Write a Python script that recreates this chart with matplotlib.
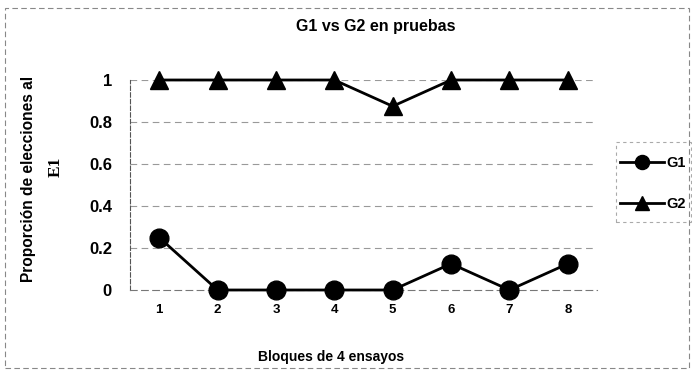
import matplotlib
matplotlib.use("Agg")
import matplotlib.pyplot as plt
from matplotlib.patches import Rectangle

categories = [1, 2, 3, 4, 5, 6, 7, 8]
g1 = [0.25, 0, 0, 0, 0, 0.125, 0, 0.125]
g2 = [1, 1, 1, 1, 0.875, 1, 1, 1]
yticks = [0, 0.2, 0.4, 0.6, 0.8, 1]
ytick_labels = ["0", "0.2", "0.4", "0.6", "0.8", "1"]

plt.rcParams['font.family'] = ['Liberation Sans', 'DejaVu Sans']

W, H = 692, 373
fig = plt.figure(figsize=(W/100, H/100), dpi=100)
ax = fig.add_axes([130/W, 83/H, (597-130)/W, (290-80)/H])

ax.plot(categories, g1, color='black', lw=2, marker='o', markersize=13.5,
        label='G1', clip_on=False, zorder=3)
ax.plot(categories, g2, color='black', lw=2, marker='^', markersize=13.5,
        label='G2', clip_on=False, zorder=3)

ax.set_xlim(0.5, 8.5)
ax.set_ylim(0, 1)
ax.set_yticks(yticks)
ax.set_yticklabels(ytick_labels, fontweight='bold', fontsize=12)
ax.set_xticks(categories)
ax.set_xticklabels([str(c) for c in categories], fontweight='bold', fontsize=9.5)
ax.tick_params(length=0)
ax.tick_params(axis='x', pad=10)
ax.tick_params(axis='y', pad=13)
for y in yticks[1:]:
    ax.axhline(y, color='#999999', lw=0.8, ls=(0, (6, 4)), zorder=1)
for s in ['top', 'right']:
    ax.spines[s].set_visible(False)
ax.spines['left'].set_linestyle((0, (4, 2)))
ax.spines['left'].set_color('#555555')
ax.spines['bottom'].set_linestyle((0, (6, 4)))
ax.spines['bottom'].set_color('#777777')

fig.text(376/W, 1 - 26/H, 'G1 vs G2 en pruebas', ha='center', va='center',
         fontsize=11.5, fontweight='bold')
fig.text(331/W, 1 - 357/H, 'Bloques de 4 ensayos', ha='center', va='center',
         fontsize=10, fontweight='bold')
fig.text(29/W, 1 - 179/H, 'Proporción de elecciones al', rotation=90, ha='center', va='center',
         fontsize=11.2, fontweight='bold')
fig.text(56/W, 1 - 167/H, 'E1', rotation=90, ha='center', va='center',
         fontsize=12.5, fontweight='bold', family=['Liberation Serif', 'DejaVu Serif'])

leg = ax.legend(loc='upper left', bbox_to_anchor=(616/W, 1 - 152/H), bbox_transform=fig.transFigure,
                frameon=False, prop={'weight': 'bold', 'size': 10.5},
                handlelength=3.0, borderaxespad=0, labelspacing=1.85, handletextpad=0.15,
                borderpad=0.3, markerscale=0.75)

# legend frame (dashed, light grey)
fig.patches.append(Rectangle((616/W, 1 - 222/H), 75/W, 80/H, transform=fig.transFigure,
                             fill=False, edgecolor='#aaaaaa', lw=0.8, ls=(0, (3, 3))))
# outer chart border
fig.patches.append(Rectangle((5/W, 5/H), (W-8)/W, (H-13)/H, transform=fig.transFigure,
                             fill=False, edgecolor='#888888', lw=0.8, ls=(0, (5, 3))))

fig.savefig('out.png', dpi=100)
